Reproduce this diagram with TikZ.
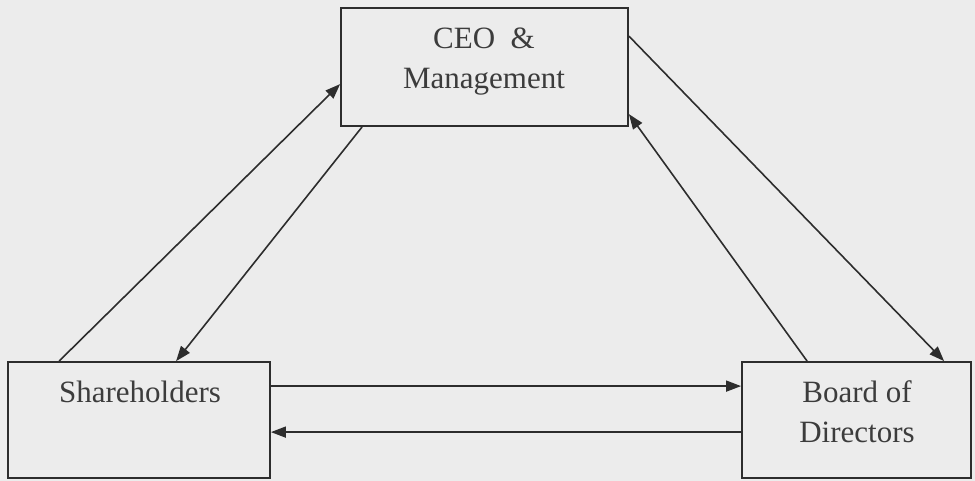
\documentclass[tikz,border=0pt]{standalone}
\usepackage{fontspec}
\setmainfont{Liberation Serif}
\usetikzlibrary{arrows.meta,calc}
\definecolor{bgc}{RGB}{236,236,236}
\definecolor{ink}{RGB}{45,45,45}
\definecolor{txt}{RGB}{60,60,60}
\begin{document}
\begin{tikzpicture}[x=1pt,y=-1pt,
  box/.style={draw=ink,line width=1.8pt,fill=bgc,rectangle,inner sep=0pt},
  lbl/.style={text=txt,align=center,font=\fontsize{31}{40}\selectfont,inner sep=0pt},
  conn/.style={draw=ink,line width=1.6pt,-{Triangle[length=15pt,width=11pt]}}]
\fill[bgc] (0,0) rectangle (975,481);
\useasboundingbox (0,0) rectangle (975,481);
\node[box,minimum width=287pt,minimum height=118pt] (ceo) at (484.5,67) {};
\node[box,minimum width=262pt,minimum height=116pt] (sh) at (139,420) {};
\node[box,minimum width=229pt,minimum height=116pt] (bd) at (856.5,420) {};
\node[lbl] (ceot) at (484,62) {CEO \ \&\\Management};
\node[lbl] (sht) at (140,392) {Shareholders};
\node[lbl] (bdt) at (857,412) {Board of\\Directors};
% connectors
\draw[conn] ($(sh.north west)+(52,0)$) -- ($(ceo.north west)+(0,77)$);
\draw[conn] ($(ceo.south west)+(22,0)$) -- ($(sh.north west)+(169,0)$);
\draw[conn] ($(ceo.north east)+(0,29)$) -- ($(bd.north west)+(203,0)$);
\draw[conn] ($(bd.north west)+(66,0)$) -- ($(ceo.north east)+(0,107)$);
\draw[conn] ($(sh.north east)+(0,25)$) -- ($(bd.north west)+(0,25)$);
\draw[conn] ($(bd.north west)+(0,71)$) -- ($(sh.north east)+(0,71)$);
\end{tikzpicture}
\end{document}
